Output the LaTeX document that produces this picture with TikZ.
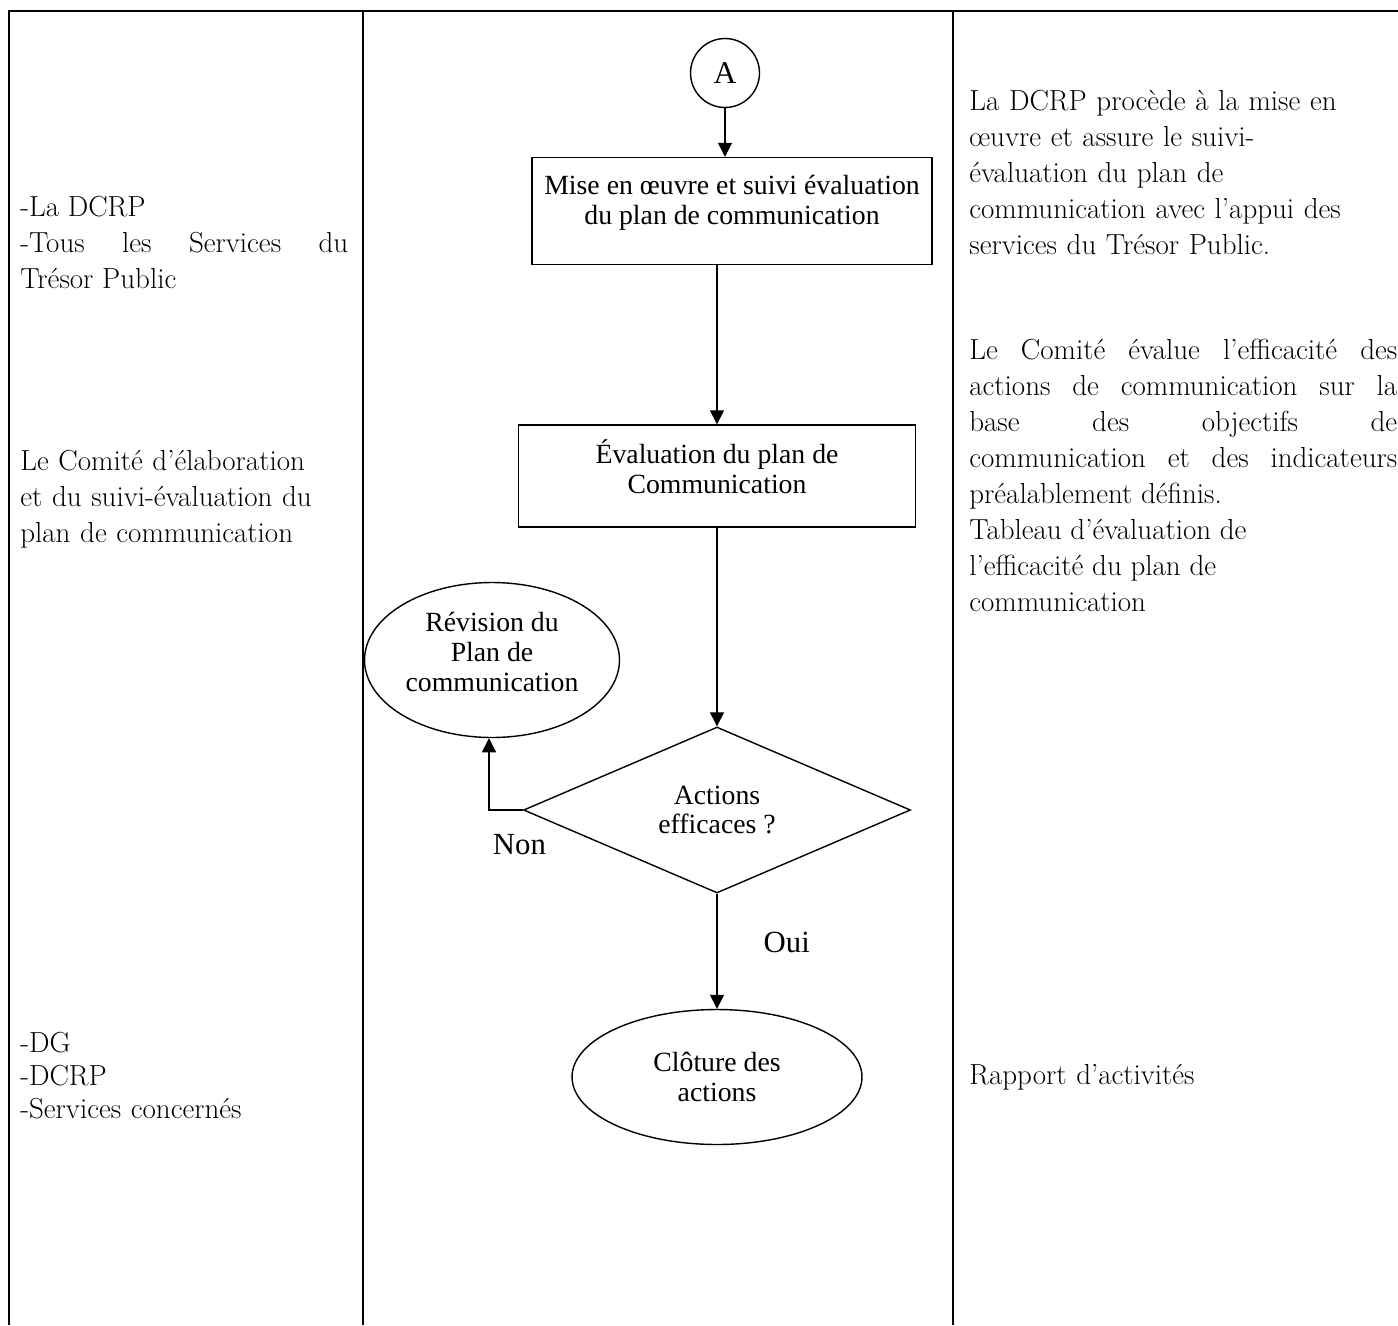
\documentclass[tikz,border=0pt]{standalone}
\usepackage{fontspec}
\newfontfamily\flowfont[Ligatures=TeX]{Liberation Serif}
\usetikzlibrary{shapes.geometric, arrows.meta, positioning, calc}
\newcommand{\flowsize}{\fontsize{15.8}{17}\flowfont}
\newcommand{\colsize}{\fontsize{16.5}{20.5}\selectfont}
\tikzstyle{stepbox} = [draw, rectangle, line width=0.8pt, align=center, inner sep=0pt, font=\flowsize]
\tikzstyle{decision} = [draw, diamond, line width=0.8pt, align=center, inner sep=0pt, font=\flowsize]
\tikzstyle{terminal} = [draw, ellipse, line width=0.8pt, align=center, inner sep=0pt, font=\flowsize]
\tikzstyle{connector} = [draw, circle, line width=0.8pt, inner sep=0pt, minimum size=1.38cm, font=\fontsize{18}{20}\flowfont]
\tikzstyle{arrow} = [line width=0.8pt, -{Triangle[length=8pt, width=8pt]}]
\tikzstyle{answer} = [inner sep=0pt, font=\fontsize{17.5}{20}\flowfont]
\tikzstyle{leftcol} = [anchor=north west, inner sep=0pt, text width=6.56cm, font=\colsize]
\tikzstyle{rightcol} = [anchor=north west, inner sep=0pt, text width=8.56cm, font=\colsize]
\tikzstyle{grid} = [line width=1.2pt]

\begin{document}
\begin{tikzpicture}[x=0.02cm, y=-0.02cm]
\useasboundingbox (0,0) rectangle (1398,1325);

% Table
\draw [grid] (9,1325) -- (9,11) -- (1398,11);
\draw [grid] (363,11) -- (363,1325);
\draw [grid] (953,11) -- (953,1325);

% Left column
\node (who1) [leftcol, align=justify] at (20,196) {-La DCRP\\-Tous les Services du\linebreak Trésor Public};
\node (who2) [leftcol, align=left] at (20,450) {Le Comité d’élaboration\\et du suivi-évaluation du\\plan de communication};
\node (who3) [leftcol, align=left, font=\fontsize{16.5}{18.8}\selectfont] at (20,1032) {-DG\\-DCRP\\-Services concernés};

% Flowchart
\node (A) [connector] at (725,73) {A};
\node (step1) [stepbox, minimum width=8cm, minimum height=2.14cm] at (732,211) {Mise en œuvre et suivi évaluation\\du plan de communication\\[-4pt]\mbox{}};
\node (step2) [stepbox, minimum width=7.94cm, minimum height=2.04cm] at (717,476) {Évaluation du plan de\\Communication\\[-6pt]\mbox{}};
\node (dec) [decision, minimum width=7.74cm, minimum height=3.2cm] at (717,810) {Actions\\efficaces ?};
\node (rev) [terminal, minimum width=5.1cm, minimum height=3.1cm] at (492,660) {Révision du\\Plan de\\communication\\[-8pt]\mbox{}};
\node (clo) [terminal, minimum width=5.8cm, minimum height=2.7cm] at (717,1077) {Clôture des\\actions};
\coordinate (back) at (489,810);

\draw [arrow] (A.south) -- (A.south |- step1.north);
\draw [arrow] (step2.north |- step1.south) -- (step2.north);
\draw [arrow] (step2) -- (dec);
\draw [arrow] (dec.west) -- node[answer, anchor=north, pos=0.1, yshift=-0.48cm] {Non} (back) -- (back |- rev.south);
\draw [arrow] (dec) -- node[answer, anchor=west, pos=0.42, xshift=0.92cm] {Oui} (clo);

% Right column
\node (out1) [rightcol, align=left] at (969,90) {La DCRP procède à la mise en\\œuvre et assure le suivi-\\évaluation du plan de\\communication avec l’appui des\\services du Trésor Public.};
\node (out2) [rightcol, align=justify] at (969,339) {Le Comité évalue l’efficacité des\linebreak actions de communication sur la\linebreak base des objectifs de\linebreak communication et des indicateurs\linebreak préalablement définis.\\Tableau d’évaluation de\\l’efficacité du plan de\\communication};
\node (out3) [rightcol, align=left] at (969,1064) {Rapport d’activités};

\end{tikzpicture}
\end{document}
